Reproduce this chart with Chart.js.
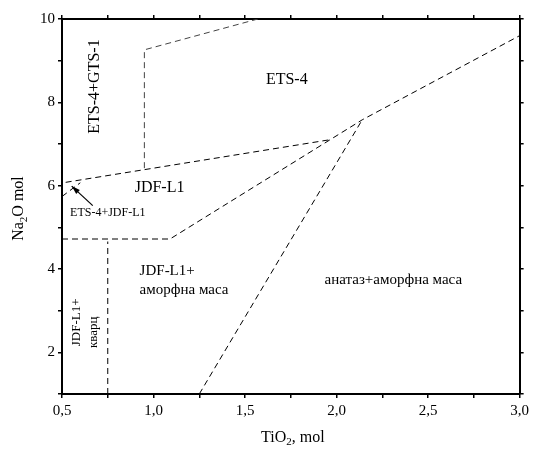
<!DOCTYPE html>
<html>
<head>
<meta charset="utf-8">
<script src="https://cdn.jsdelivr.net/npm/chart.js@4/dist/chart.umd.min.js"></script>
<style>
  body { margin: 0; background: #fff; }
  #wrap { width: 533px; height: 450px; }
</style>
</head>
<body>
<div id="wrap"><canvas id="myChart" width="533" height="450"></canvas></div>
<script>
// phase boundaries, [TiO2, Na2O] in mol
let lineEtsGts = [[0.95, 6.42], [0.95, 9.26], [1.57, 10.0]];
let lineEtsJdf = [[0.52, 6.08], [1.96, 7.10]];
let lineJdfAmorph = [[0.5, 4.72], [1.09, 4.72], [2.14, 7.58], [3.0, 9.6]];
let lineAnatase = [[1.25, 1.0], [2.14, 7.58]];
let lineQuartz = [[0.75, 1.0], [0.75, 4.66]];
let lineSmall = [[0.5, 5.74], [0.6, 6.07]];

// field names
let fieldNames = ["ETS-4+GTS-1", "ETS-4", "JDF-L1", "ETS-4+JDF-L1", "JDF-L1+", "аморфна маса",
  "JDF-L1+", "кварц", "анатаз+аморфна маса"];
let fieldX = [0.679, 1.728, 1.033, 0.75, 0.924, 0.924, 0.582, 0.674, 2.31];
let fieldY = [8.38, 8.54, 5.95, 5.35, 3.95, 3.5, 2.72, 2.48, 3.74];

let xTicks = [0.5, 1.0, 1.5, 2.0, 2.5, 3.0];
let yTicks = [2, 4, 6, 8, 10];

const serif = "'Liberation Serif', 'Times New Roman', serif";

function toPoints(arr) {
  return arr.map(p => ({ x: p[0], y: p[1] }));
}

let boundaries = [lineEtsGts, lineEtsJdf, lineJdfAmorph, lineAnatase, lineQuartz, lineSmall];
let datasets = boundaries.map((b, i) => ({
  data: toPoints(b),
  showLine: true,
  borderColor: i === 0 ? '#444' : '#000',
  borderWidth: 1,
  borderDash: [6, 4],
  pointRadius: 0,
  fill: false
}));

// label styles: [size, rotation, align]
let fieldStyle = [
  [16, -90, 'center'], [16, 0, 'center'], [16, 0, 'center'], [12, 0, 'center'],
  [15, 0, 'left'], [15, 0, 'left'], [13, -90, 'center'], [13, -90, 'center'], [15, 0, 'center']
];

const textPlugin = {
  id: 'texts',
  afterDraw(chart) {
    let ctx = chart.ctx;
    let xs = chart.scales.x, ys = chart.scales.y;
    ctx.save();
    ctx.fillStyle = '#000';
    ctx.textBaseline = 'middle';
    for (let i = 0; i < fieldNames.length; i++) {
      let st = fieldStyle[i];
      ctx.save();
      ctx.translate(xs.getPixelForValue(fieldX[i]), ys.getPixelForValue(fieldY[i]));
      ctx.rotate(st[1] * Math.PI / 180);
      ctx.font = st[0] + 'px ' + serif;
      ctx.textAlign = st[2];
      ctx.fillText(fieldNames[i], 0, 0);
      ctx.restore();
    }

    // arrow to the small field
    let x1 = xs.getPixelForValue(0.668), y1 = ys.getPixelForValue(5.52);
    let x2 = xs.getPixelForValue(0.553), y2 = ys.getPixelForValue(5.99);
    ctx.strokeStyle = '#000';
    ctx.lineWidth = 1.2;
    ctx.beginPath();
    ctx.moveTo(x1, y1);
    ctx.lineTo(x2, y2);
    ctx.stroke();
    let a = Math.atan2(y2 - y1, x2 - x1);
    ctx.beginPath();
    ctx.moveTo(x2, y2);
    ctx.lineTo(x2 - 9 * Math.cos(a - 0.3), y2 - 9 * Math.sin(a - 0.3));
    ctx.lineTo(x2 - 9 * Math.cos(a + 0.3), y2 - 9 * Math.sin(a + 0.3));
    ctx.closePath();
    ctx.fill();

    // axis titles with subscripts
    let area = chart.chartArea;
    ctx.textAlign = 'left';
    ctx.textBaseline = 'alphabetic';
    let big = '16px ' + serif, small = '11px ' + serif;
    ctx.font = big;
    let w1 = ctx.measureText('TiO').width;
    let w3 = ctx.measureText(', mol').width;
    ctx.font = small;
    let w2 = ctx.measureText('2').width;
    let cx = (area.left + area.right) / 2 + 2;
    let sx = cx - (w1 + w2 + w3) / 2;
    let by = 442;
    ctx.font = big;
    ctx.fillText('TiO', sx, by);
    ctx.font = small;
    ctx.fillText('2', sx + w1, by + 3);
    ctx.font = big;
    ctx.fillText(', mol', sx + w1 + w2, by);

    ctx.save();
    ctx.translate(23, (area.top + area.bottom) / 2 + 2);
    ctx.rotate(-Math.PI / 2);
    ctx.font = big;
    w1 = ctx.measureText('Na').width;
    w3 = ctx.measureText('O mol').width;
    ctx.font = small;
    w2 = ctx.measureText('2').width;
    sx = -(w1 + w2 + w3) / 2;
    ctx.font = big;
    ctx.fillText('Na', sx, 0);
    ctx.font = small;
    ctx.fillText('2', sx + w1, 4);
    ctx.font = big;
    ctx.fillText('O mol', sx + w1 + w2, 0);
    ctx.restore();
    ctx.restore();
  }
};

function xLabel(v) {
  for (let t of xTicks) {
    if (Math.abs(t - v) < 1e-6) return t.toFixed(1).replace('.', ',');
  }
  return '';
}

function yLabel(v) {
  return yTicks.includes(v) ? String(v) : '';
}

let axisGrid = { drawOnChartArea: false, drawTicks: true, tickLength: 4, color: '#000', lineWidth: 1.5 };
let axisBorder = { display: true, color: '#000', width: 2 };

var ctx = document.getElementById("myChart").getContext('2d');
/*global Chart*/
var chart = new Chart(ctx, {
  type: 'scatter',
  data: { datasets: datasets },
  options: {
    responsive: false,
    animation: false,
    layout: { padding: { top: 19, right: 11, left: 0, bottom: 0 } },
    plugins: { legend: { display: false }, tooltip: { enabled: false } },
    scales: {
      x: {
        type: 'linear', position: 'bottom', min: 0.5, max: 3.0,
        grid: axisGrid, border: axisBorder,
        ticks: { stepSize: 0.25, autoSkip: false, maxRotation: 0, padding: 4, color: '#000',
          font: { family: serif, size: 15 }, callback: xLabel },
        afterFit: s => { s.height = 56; }
      },
      xTop: {
        type: 'linear', position: 'top', min: 0.5, max: 3.0,
        grid: axisGrid, border: axisBorder,
        ticks: { stepSize: 0.25, display: false },
        afterFit: s => { s.height = 0; }
      },
      y: {
        type: 'linear', position: 'left', min: 1, max: 10,
        grid: axisGrid, border: axisBorder,
        ticks: { stepSize: 1, autoSkip: false, padding: 3, color: '#000',
          font: { family: serif, size: 15 }, callback: yLabel },
        afterFit: s => { s.width = 62; }
      },
      yRight: {
        type: 'linear', position: 'right', min: 1, max: 10,
        grid: axisGrid, border: axisBorder,
        ticks: { stepSize: 1, display: false },
        afterFit: s => { s.width = 0; }
      }
    }
  },
  plugins: [textPlugin]
});
</script>
</body>
</html>
